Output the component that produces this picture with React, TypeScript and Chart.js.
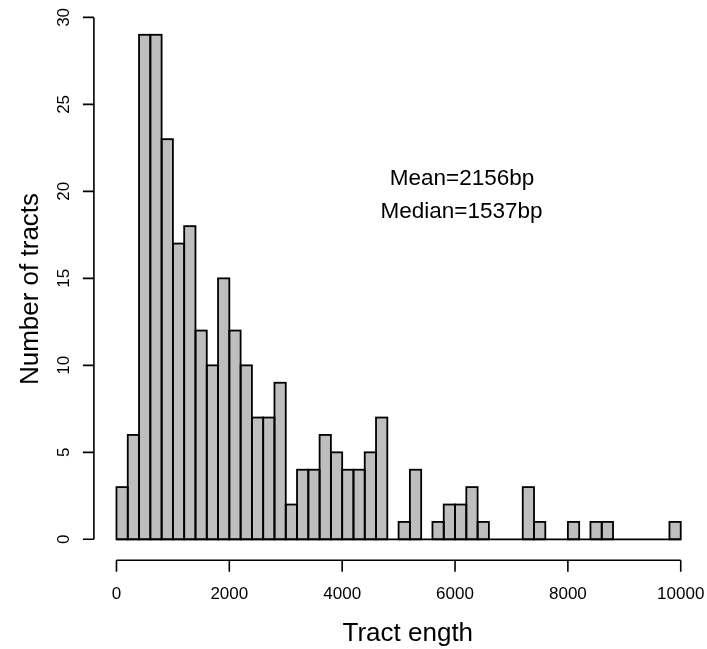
import { useEffect, useRef } from "react";
import { Chart, registerables } from "chart.js";

Chart.register(...registerables);

// Histogram bins (left edges, bp) and counts
const binStarts = [
  0, 200, 400, 600, 800, 1000, 1200, 1400, 1600, 1800,
  2000, 2200, 2400, 2600, 2800, 3000, 3200, 3400, 3600, 3800,
  4000, 4200, 4400, 4600, 4800, 5000, 5200, 5400, 5600, 5800,
  6000, 6200, 6400, 6600, 6800, 7000, 7200, 7400, 7600, 7800,
  8000, 8200, 8400, 8600, 8800, 9000, 9200, 9400, 9600, 9800,
];
const binWidth = 200;
const counts = [
  3, 6, 29, 29, 23, 17, 18, 12, 10, 15,
  12, 10, 7, 7, 9, 2, 4, 4, 6, 5,
  4, 4, 5, 7, 0, 1, 4, 0, 1, 2,
  2, 3, 1, 0, 0, 0, 3, 1, 0, 0,
  1, 0, 1, 1, 0, 0, 0, 0, 0, 1,
];
const xTicks = [0, 2000, 4000, 6000, 8000, 10000];
const yTicks = [0, 5, 10, 15, 20, 25, 30];
const xTitle = "Tract ength";
const yTitle = "Number of tracts";
const annotationLines = ["Mean=2156bp", "Median=1537bp"];

const FONT = "'Liberation Sans', Arial, Helvetica, sans-serif";

const rStylePlugin = {
  id: "rStyle",
  afterDatasetsDraw(chart: any) {
    const ctx: CanvasRenderingContext2D = chart.ctx;
    const xs = chart.scales.x;
    const ys = chart.scales.y;
    const area = chart.chartArea;
    ctx.save();
    ctx.strokeStyle = "#000";
    ctx.fillStyle = "#000";

    // bar outlines + baseline (zero bins)
    ctx.lineWidth = 1.8;
    const y0 = ys.getPixelForValue(0);
    ctx.beginPath();
    ctx.moveTo(xs.getPixelForValue(binStarts[0]), y0);
    ctx.lineTo(xs.getPixelForValue(binStarts[binStarts.length - 1] + binWidth), y0);
    ctx.stroke();
    binStarts.forEach((s, i) => {
      if (counts[i] > 0) {
        const l = xs.getPixelForValue(s);
        const r = xs.getPixelForValue(s + binWidth);
        const t = ys.getPixelForValue(counts[i]);
        ctx.strokeRect(l, t, r - l, y0 - t);
      }
    });

    // x axis
    ctx.lineWidth = 1.6;
    const xb = area.bottom;
    ctx.beginPath();
    ctx.moveTo(xs.getPixelForValue(xTicks[0]), xb);
    ctx.lineTo(xs.getPixelForValue(xTicks[xTicks.length - 1]), xb);
    xTicks.forEach((v) => {
      const px = xs.getPixelForValue(v);
      ctx.moveTo(px, xb);
      ctx.lineTo(px, xb + 11.5);
    });
    ctx.stroke();

    // y axis
    const yl = area.left;
    ctx.beginPath();
    ctx.moveTo(yl, ys.getPixelForValue(yTicks[0]));
    ctx.lineTo(yl, ys.getPixelForValue(yTicks[yTicks.length - 1]));
    yTicks.forEach((v) => {
      const py = ys.getPixelForValue(v);
      ctx.moveTo(yl, py);
      ctx.lineTo(yl - 11, py);
    });
    ctx.stroke();

    // x tick labels
    ctx.font = `17px ${FONT}`;
    ctx.textAlign = "center";
    ctx.textBaseline = "alphabetic";
    xTicks.forEach((v) => {
      ctx.fillText(String(v), xs.getPixelForValue(v), xb + 38.3);
    });

    // y tick labels (rotated)
    yTicks.forEach((v) => {
      const py = ys.getPixelForValue(v);
      ctx.save();
      ctx.translate(yl - 24.9, py);
      ctx.rotate(-Math.PI / 2);
      ctx.fillText(String(v), 0, 0);
      ctx.restore();
    });

    // axis titles
    ctx.font = `26px ${FONT}`;
    ctx.fillText(xTitle, 407.8, 640.7);
    ctx.save();
    ctx.translate(38.3, 289);
    ctx.rotate(-Math.PI / 2);
    ctx.fillText(yTitle, 0, 0);
    ctx.restore();

    // annotation
    ctx.font = `22.5px ${FONT}`;
    ctx.fillText(annotationLines[0], 462, 185);
    ctx.fillText(annotationLines[1], 461.5, 218.3);

    ctx.restore();
  },
};

export default function App() {
  const canvasRef = useRef<HTMLCanvasElement | null>(null);

  useEffect(() => {
    if (!canvasRef.current) return;
    const data = binStarts.map((s, i) => ({ x: s + binWidth / 2, y: counts[i] }));
    const chart = new Chart(canvasRef.current, {
      type: "bar",
      data: {
        datasets: [
          {
            data: data as any,
            backgroundColor: "#bebebe",
            borderWidth: 0,
            barPercentage: 1,
            categoryPercentage: 1,
          },
        ],
      },
      options: {
        responsive: false,
        devicePixelRatio: 1,
        animation: false,
        layout: { padding: { left: 93.9, right: 3.7, top: 0, bottom: 88.8 } },
        plugins: { legend: { display: false }, tooltip: { enabled: false } },
        scales: {
          x: { type: "linear", min: -400, max: 10400, offset: false, display: false },
          y: { type: "linear", min: -1.2, max: 31.0, display: false },
        },
      },
      plugins: [rStylePlugin],
    });
    return () => chart.destroy();
  }, []);

  return (
    <div style={{ position: "fixed", left: 0, top: 0, width: 707, height: 649, background: "#fff" }}>
      <canvas ref={canvasRef} width={707} height={649} style={{ display: "block" }} />
    </div>
  );
}
